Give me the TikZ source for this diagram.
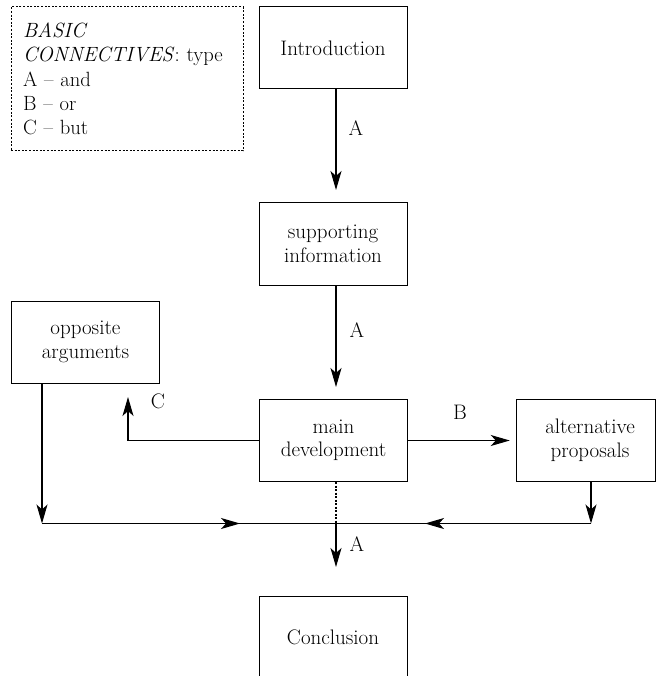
\documentclass[tikz,border=0pt]{standalone}
\usetikzlibrary{arrows.meta}
\begin{document}
\begin{tikzpicture}[x=1pt,y=-1pt,
  every node/.style={font=\fontsize{21}{23.5}\selectfont},
  box/.style={draw,line width=1pt,minimum width=148pt,minimum height=82pt,align=center,inner sep=0pt},
  conn/.style={line width=1.1pt},
  arr/.style={conn,-{Stealth[length=19pt,width=11pt,inset=5pt]}},
  lbl/.style={inner sep=0pt}]
\useasboundingbox (0,0) rectangle (657,676);
% legend
\node[draw,dash pattern=on 2pt off 1.6pt,line width=1pt,minimum width=232pt,minimum height=144pt,
      text width=208pt,align=left,inner sep=0pt,font=\fontsize{20.6}{24.2}\selectfont] (legend) at (127,79)
  {\textit{BASIC}\\\textit{CONNECTIVES}: type\\A -- and\\B -- or\\C -- but};
% boxes
\node[box] (intro) at (333,48) {Introduction};
\node[box] (sup) at (333,244) {supporting\\information};
\node[box] (main) at (333.5,440.5) {main\\development};
\node[box] (opp) at (85.5,342) {opposite\\arguments};
\node[box,minimum width=139.5pt] (alt) at (586,440.5) {\hspace*{8pt}alternative\\\hspace*{8pt}proposals};
\node[inner sep=0pt] (concl) at (333,637) {Conclusion};
\draw[line width=1pt] (259,676) |- (407,596) -- (407,676);
\coordinate (conclTop) at (336,596);
% coordinates
\coordinate (introB) at (336,89);
\coordinate (supT) at (336,203);
\coordinate (supB) at (336,285);
\coordinate (mainT) at (336,399);
\coordinate (mainB) at (336,482);
\coordinate (cC) at (128,397);
\coordinate (oppB) at (42,383);
\coordinate (oppJ) at (42,523.5);
\coordinate (leftMid) at (240,523.5);
\coordinate (junc) at (336,523.5);
\coordinate (altB) at (591,482);
\coordinate (altJ) at (591,523.5);
\coordinate (rightMid) at (425,523.5);
\coordinate (juncTip) at (336,567);
% connectors
\draw[arr,shorten >=13pt] (introB) -- (supT);
\draw[arr,shorten >=12pt] (supB) -- (mainT);
\draw[arr] (main.west) -| (cC);
\draw[arr,shorten >=6pt] (main.east) -- (alt.west);
\draw[arr] (oppB) -- (oppJ);
\draw[conn] (oppJ) -- (junc);
\draw[arr] (oppJ) -- (leftMid);
\draw[arr] (altB) -- (altJ);
\draw[conn] (altJ) -- (junc);
\draw[arr] (altJ) -- (rightMid);
\draw[conn,dash pattern=on 2pt off 1.5pt] (mainB) -- (junc);
\draw[arr] (junc) -- (juncTip);
% labels
\node[lbl] (la1) at (356,128) {A};
\node[lbl] (la2) at (357,330) {A};
\node[lbl] (la3) at (357,544) {A};
\node[lbl] (lc) at (158,401) {C};
\node[lbl] (lb) at (460,412) {B};
\end{tikzpicture}
\end{document}
